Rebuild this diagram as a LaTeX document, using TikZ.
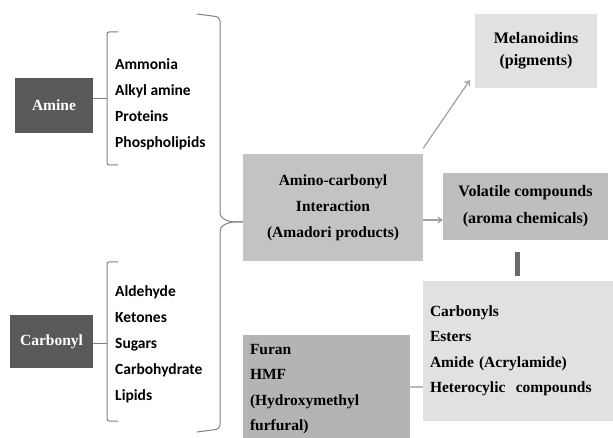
\documentclass[tikz,border=0pt]{standalone}
\usepackage{fontspec}
\setmainfont{Liberation Serif}
\newfontfamily\listfont{Carlito}
\usetikzlibrary{arrows.meta}
\definecolor{darkbox}{HTML}{595959}
\definecolor{midbox}{HTML}{C3C3C3}
\definecolor{volbox}{HTML}{BEBEBE}
\definecolor{furbox}{HTML}{B4B4B4}
\definecolor{lightbox}{HTML}{E1E1E1}
\definecolor{bracecol}{HTML}{7F7F7F}
\definecolor{arrowcol}{HTML}{A0A0A0}
\definecolor{barcol}{HTML}{6A6A6A}
\tikzset{
  box/.style={rectangle, inner sep=0pt, font=\bfseries\fontsize{15.5}{26}\selectfont, align=center},
  darkb/.style={box, fill=darkbox, text=white},
  listtxt/.style={inner sep=0pt, anchor=west, align=left, font=\listfont\bfseries\fontsize{15.5}{26}\selectfont},
  bracket/.style={draw=bracecol, line width=1pt, rounded corners=2pt},
  flow/.style={draw=arrowcol, line width=1.2pt, -{Straight Barb[length=4pt,width=6pt]}},
}
\begin{document}
\begin{tikzpicture}[x=1pt,y=-1pt]
\useasboundingbox (0,0) rectangle (613,438);
% left boxes
\node[darkb, minimum width=78pt, minimum height=55pt] (amine) at (54,105.5) {Amine};
\node[darkb, minimum width=83pt, minimum height=53pt] (carbonyl) at (51.5,341.5) {Carbonyl};
% lists
\node[listtxt] (alist) at (115,104) {Ammonia\\Alkyl amine\\Proteins\\Phospholipids};
\node[listtxt] (clist) at (115,344) {Aldehyde\\Ketones\\Sugars\\Carbohydrate\\Lipids};
% small brackets
\coordinate (b1) at (107,99);
\coordinate (b2) at (107,343);
\draw[bracket] (118,32) -- (107,32) -- (107,165) -- (118,165);
\draw[bracket] (118,262) -- (107,262) -- (107,421) -- (118,421);
\draw[draw=bracecol, line width=1pt] (amine.east |- b1) -- (b1);
\draw[draw=bracecol, line width=1pt] (carbonyl.east |- b2) -- (b2);
% big brace
\draw[bracket, rounded corners=4pt] (197,14) -- (220,17) -- (220,217) -- (230,222) -- (246,222);
\draw[bracket, rounded corners=4pt] (246,222) -- (230,222) -- (220,227) -- (220,429) -- (197,432);
% centre boxes
\node[box, fill=midbox, minimum width=180pt, minimum height=107pt] (amino) at (333,208)
  {Amino-carbonyl\\Interaction\\(Amadori products)};
\coordinate (aminotop) at (333,153);
\node[box, fill=lightbox, minimum width=122pt, minimum height=74pt, font=\bfseries\fontsize{16}{22}\selectfont] (mel) at (536,51)
  {Melanoidins\\(pigments)};
\node[box, fill=volbox, minimum width=165pt, minimum height=67pt, font=\bfseries\fontsize{16}{27}\selectfont] (vol) at (525.5,206.5)
  {Volatile compounds\\(aroma chemicals)};
\node[box, fill=lightbox, minimum width=190pt, minimum height=140pt, text width=176pt, align=left,
  font=\bfseries\fontsize{15.5}{25.5}\selectfont] (carbs) at (518,351)
  {Carbonyls\\Esters\\Amide (Acrylamide)\\Heterocylic\ \ compounds};
\node[box, fill=furbox, minimum width=167pt, minimum height=108pt, text width=153pt, align=left,
  font=\bfseries\fontsize{15.5}{25.5}\selectfont] (furan) at (326.5,389)
  {Furan\\HMF\\(Hydroxymethyl\\furfural)};
% connectors
\draw[flow] ([yshift=6pt]amino.north east) -- ([xshift=-5pt,yshift=8pt]mel.south west);
\draw[flow] (amino.east |- 0,220) -- (vol.west |- 0,220);
\coordinate (bartop) at (517,252);
\coordinate (barbot) at (517,276);
\draw[barcol, line width=5pt] (bartop) -- (barbot);
\coordinate (fl) at (0,387);
\draw[draw=lightgray!90!gray, line width=1.5pt] (furan.east |- fl) -- (carbs.west |- fl);
\end{tikzpicture}
\end{document}
